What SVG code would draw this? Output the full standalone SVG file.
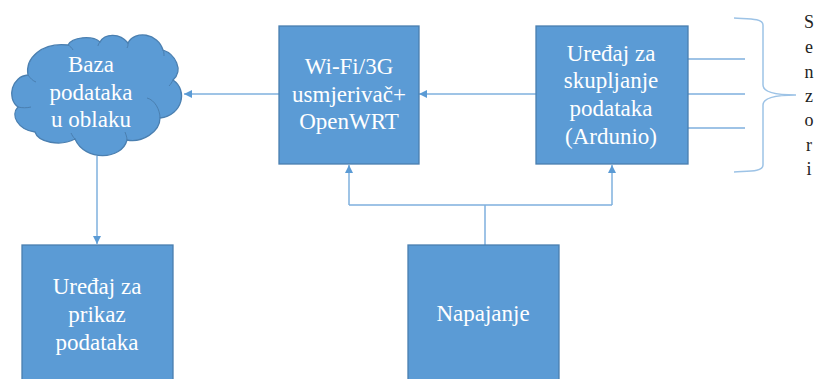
<svg xmlns="http://www.w3.org/2000/svg" width="814" height="379" viewBox="0 0 814 379">
<style>
.n{fill:#5b9bd5;stroke:#4a7fb0;stroke-width:1.3}
.c{fill:none;stroke:#7fb0de;stroke-width:1.5}
.b{fill:none;stroke:#9dc3e6;stroke-width:1.5}
.t{font-family:"Liberation Serif",serif;font-size:23px;fill:#fff;text-anchor:middle}
.s{font-family:"Liberation Serif",serif;font-size:18px;fill:#222;text-anchor:middle}
</style>
<defs>
<marker id="a" viewBox="0 0 8 8" refX="8" refY="4" markerWidth="8" markerHeight="8" markerUnits="userSpaceOnUse" orient="auto"><path d="M0 0L8 4L0 8Z" fill="#5b9bd5"/></marker>
</defs>
<rect width="814" height="379" fill="#fff"/>
<g id="connectors">
<path class="c" marker-end="url(#a)" d="M279 94H184"/>
<path class="c" marker-end="url(#a)" d="M536 94H419"/>
<path class="c" marker-end="url(#a)" d="M97 156V244"/>
<path class="c" marker-end="url(#a)" d="M349 205V165"/>
<path class="c" marker-end="url(#a)" d="M612 205V165"/>
<path class="c" d="M349 205H612M485 205V245"/>
<path class="c" d="M687 59H745M687 94H745M687 128H745"/>
</g>
<g id="cloud">
<path class="n" d="M28 75C25 58 42 42 68 45C72 37 92 35 100 42C105 33 120 33 128 43C135 30 158 33 163 50C175 54 184 70 173 80C188 90 183 115 160 118C160 132 142 143 127 140C122 160 85 162 75 139C60 147 38 142 35 132C18 130 10 115 18 107C6 98 12 76 28 75Z"/>
<path d="M147 98C155 100 160 110 160 118M127 140C127 137 126 135 125 132M75 139C73 137 72 135 71 133M18 107C22 108 27 108 31 107M28 75C30 78 33 81 36 82M163 50C164 52 164 54 164 56M173 80C172 82 171 84 169 86M68 45C70 46 72 48 73 50M100 42C99 43 98 45 98 46M128 43C128 45 128 46 127 48" fill="none" stroke="#4a7fb0" stroke-width="1"/>
<text class="t"><tspan x="91" y="72">Baza</tspan><tspan x="91" y="100">podataka</tspan><tspan x="91" y="127">u oblaku</tspan></text>
</g>
<g id="router">
<rect class="n" x="279" y="26" width="140" height="138"/>
<text class="t"><tspan x="349" y="74">Wi-Fi/3G</tspan><tspan x="349" y="102">usmjerivač+</tspan><tspan x="349" y="129">OpenWRT</tspan></text>
</g>
<g id="collector">
<rect class="n" x="536" y="26" width="152" height="138"/>
<text class="t"><tspan x="611" y="61">Uređaj za</tspan><tspan x="611" y="88">skupljanje</tspan><tspan x="611" y="116">podataka</tspan><tspan x="611" y="144">(Ardunio)</tspan></text>
</g>
<g id="display">
<rect class="n" x="22" y="245" width="151" height="140"/>
<text class="t"><tspan x="97" y="294">Uređaj za</tspan><tspan x="97" y="322">prikaz</tspan><tspan x="97" y="350">podataka</tspan></text>
</g>
<g id="power">
<rect class="n" x="408" y="245" width="151" height="140"/>
<text class="t" x="483" y="321">Napajanje</text>
</g>
<g id="sensors">
<path class="b" d="M734 18C748 19 763 18 763 25V85C763 91 772 95 796 95C772 95 763 99 763 105V165C763 172 748 171 734 172"/>
<text class="s"><tspan x="809" y="28">S</tspan><tspan x="809" y="53">e</tspan><tspan x="809" y="78">n</tspan><tspan x="809" y="102">z</tspan><tspan x="809" y="126">o</tspan><tspan x="809" y="151">r</tspan><tspan x="809" y="175">i</tspan></text>
</g>
</svg>
